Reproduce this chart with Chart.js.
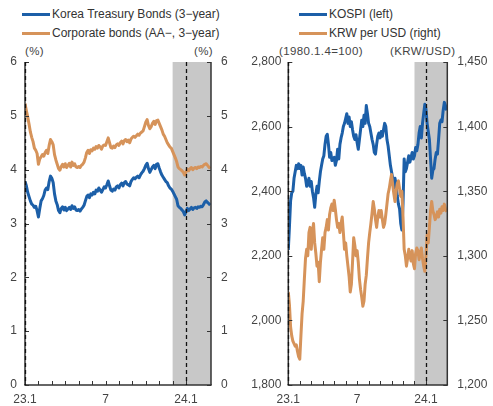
<!DOCTYPE html>
<html>
<head>
<meta charset="utf-8">
<script src="https://cdn.jsdelivr.net/npm/chart.js@4"></script>
<style>
  html,body{margin:0;padding:0;background:#fff;}
  #wrap{position:relative;width:493px;height:406px;overflow:hidden;font-family:"Liberation Sans",Arial,sans-serif;color:#333;}
  .t{position:absolute;font-size:12px;line-height:14px;white-space:nowrap;}
  .u{position:absolute;font-size:11.5px;line-height:14px;white-space:nowrap;letter-spacing:0.4px;color:#444;}
  .ln{position:absolute;height:3px;width:28px;}
  canvas{position:absolute;top:0;}
</style>
</head>
<body>
<div id="wrap">
  <div class="ln" style="left:22px;top:13px;background:#1c5fa8"></div>
  <div class="t" style="left:52px;top:7px">Korea Treasury Bonds (3−year)</div>
  <div class="ln" style="left:22px;top:32px;background:#d6935a"></div>
  <div class="t" style="left:52px;top:26px">Corporate bonds (AA−, 3−year)</div>
  <div class="u" style="left:25px;top:44px">(%)</div>
  <div class="u" style="left:194px;top:44px">(%)</div>

  <div class="ln" style="left:299px;top:13px;background:#1c5fa8"></div>
  <div class="t" style="left:329px;top:7px">KOSPI (left)</div>
  <div class="ln" style="left:299px;top:32px;background:#d6935a"></div>
  <div class="t" style="left:329px;top:26px">KRW per USD (right)</div>
  <div class="u" style="left:279px;top:44px">(1980.1.4=100)</div>
  <div class="u" style="left:390px;top:44px">(KRW/USD)</div>

  <canvas id="c1" width="246" height="406" style="left:0;width:246px;height:406px"></canvas>
  <canvas id="c2" width="247" height="406" style="left:246px;width:247px;height:406px"></canvas>
</div>
<script>
// ---- data (x = months since 2023-01-01, one point every STEP months) ----
const STEP = 0.1;
const X_MAX = 13.86;
const X_LABELS = {0: '23.1', 6: '7', 12: '24.1'};
const SHADE_FROM = 11;     // Dec 2023
const DASH_AT = [0, 12];   // dashed verticals

const ktb3y = [3.78,3.70,3.58,3.50,3.42,3.36,3.34,3.30,3.32,3.24,3.12,3.28,3.42,3.46,3.52,3.62,3.66,3.63,3.78,3.88,
3.84,3.76,3.55,3.42,3.35,3.24,3.20,3.28,3.31,3.25,3.30,3.24,3.27,3.30,3.26,3.33,3.28,3.31,3.25,3.24,
3.26,3.23,3.27,3.30,3.34,3.42,3.50,3.53,3.48,3.55,3.53,3.58,3.55,3.62,3.60,3.66,3.62,3.58,3.63,3.68,
3.66,3.72,3.79,3.70,3.62,3.60,3.64,3.62,3.68,3.70,3.66,3.72,3.75,3.70,3.76,3.78,3.73,3.72,3.70,3.78,
3.82,3.85,3.83,3.86,3.88,3.85,3.90,3.94,3.97,4.02,4.08,4.12,4.02,3.95,4.00,4.05,4.08,4.02,4.10,4.11,
4.03,3.96,3.90,3.86,3.82,3.78,3.76,3.70,3.66,3.64,3.60,3.55,3.50,3.45,3.33,3.30,3.28,3.25,3.22,3.16,
3.22,3.28,3.24,3.27,3.30,3.26,3.29,3.30,3.28,3.31,3.30,3.32,3.31,3.35,3.40,3.42,3.39,3.37,3.34];

const corpAA = [5.23,5.10,4.98,4.85,4.70,4.60,4.52,4.40,4.36,4.30,4.10,4.20,4.24,4.28,4.25,4.32,4.36,4.30,4.45,4.56,
4.52,4.46,4.28,4.18,4.10,4.02,3.99,4.06,4.10,4.05,4.11,4.04,4.08,4.12,4.05,4.14,4.08,4.11,4.05,4.04,
4.06,4.04,4.08,4.10,4.14,4.22,4.32,4.36,4.30,4.37,4.35,4.40,4.38,4.43,4.40,4.45,4.42,4.38,4.44,4.46,
4.45,4.52,4.59,4.50,4.41,4.40,4.44,4.41,4.46,4.48,4.45,4.50,4.53,4.48,4.54,4.56,4.52,4.55,4.50,4.57,
4.60,4.62,4.60,4.63,4.66,4.64,4.68,4.70,4.72,4.80,4.88,4.93,4.82,4.76,4.80,4.86,4.90,4.84,4.91,4.92,
4.86,4.80,4.74,4.66,4.62,4.56,4.50,4.46,4.42,4.40,4.34,4.28,4.22,4.15,4.05,4.02,4.00,3.98,3.95,3.90,
3.96,4.01,3.98,4.02,4.04,4.00,4.03,4.04,4.02,4.05,4.04,4.06,4.05,4.08,4.10,4.11,4.08,4.05,4.02];

const kospi = [2218,2290,2370,2395,2400,2440,2460,2480,2470,2485,2470,2480,2450,2475,2455,2440,2415,2420,2440,2415,
2430,2400,2380,2350,2390,2415,2395,2430,2460,2480,2500,2510,2545,2570,2576,2545,2505,2520,2495,2500,
2505,2480,2495,2530,2500,2545,2565,2580,2600,2610,2625,2640,2610,2630,2600,2615,2590,2570,2560,2575,
2550,2530,2560,2590,2620,2600,2635,2610,2665,2640,2610,2600,2580,2560,2545,2520,2515,2545,2570,2580,
2565,2585,2570,2590,2610,2600,2560,2540,2510,2480,2460,2440,2410,2440,2420,2385,2360,2345,2300,2280,
2360,2500,2460,2470,2490,2510,2490,2505,2520,2500,2510,2535,2525,2545,2580,2600,2565,2610,2640,2669,
2655,2610,2585,2560,2500,2440,2465,2470,2500,2520,2515,2560,2610,2620,2615,2650,2675,2665,2650];

const krwUsd = [1272,1262,1245,1238,1234,1232,1230,1231,1226,1222,1220,1238,1255,1265,1282,1298,1305,1300,1318,1322,
1305,1318,1325,1310,1302,1292,1295,1280,1295,1305,1314,1305,1318,1322,1328,1320,1332,1337,1340,1335,
1343,1336,1328,1322,1325,1318,1325,1330,1318,1305,1310,1300,1292,1284,1272,1278,1295,1314,1308,1300,
1304,1295,1282,1274,1268,1261,1265,1278,1285,1298,1310,1318,1325,1333,1342,1336,1328,1322,1330,1335,
1330,1335,1328,1322,1325,1332,1340,1348,1352,1358,1363,1355,1348,1342,1350,1356,1358,1352,1346,1350,
1330,1305,1300,1292,1298,1305,1300,1296,1304,1294,1290,1302,1306,1304,1297,1302,1306,1298,1292,1288,
1300,1316,1310,1322,1335,1342,1335,1332,1328,1330,1334,1330,1336,1333,1338,1335,1340,1336,1334];

const BLUE = '#1c5fa8', ORANGE = '#d6935a';
const FONT = {family: '"Liberation Sans", Arial, sans-serif', size: 12};
const TICK_COLOR = '#444';

function toPts(arr){ return arr.map((v,i)=>({x: +(i*STEP).toFixed(2), y: v})); }

const decor = {
  id: 'decor',
  beforeDatasetsDraw(chart){
    const {ctx, chartArea:a, scales:{x}} = chart;
    const x0 = x.getPixelForValue(SHADE_FROM);
    ctx.save();
    ctx.fillStyle = '#c8c8c8';
    ctx.fillRect(x0, a.top, a.right - x0, a.bottom - a.top);
    ctx.restore();
  },
  afterDatasetsDraw(chart){
    const {ctx, chartArea:a, scales} = chart;
    const x = scales.x, yl = scales.y, yr = scales.y2;
    const line = (x1,y1,x2,y2)=>{ctx.beginPath();ctx.moveTo(x1,y1);ctx.lineTo(x2,y2);ctx.stroke();};
    ctx.save();
    ctx.strokeStyle = '#333'; ctx.lineWidth = 1.5;
    line(a.left, a.top, a.left, a.bottom);
    line(a.right, a.top, a.right, a.bottom);
    line(a.left - 0.75, a.bottom, a.right + 0.75, a.bottom);
    ctx.lineWidth = 1;
    yl.ticks.forEach(t=>{const p = Math.round(yl.getPixelForValue(t.value))+0.5; line(a.left, p, a.left+4, p);});
    yr.ticks.forEach(t=>{const p = Math.round(yr.getPixelForValue(t.value))+0.5; line(a.right-4, p, a.right, p);});
    x.ticks.forEach(t=>{const p = Math.round(x.getPixelForValue(t.value))+0.5; line(p, a.bottom, p, a.bottom-4);});
    ctx.strokeStyle = '#111'; ctx.lineWidth = 1.3; ctx.setLineDash([4,3]);
    DASH_AT.forEach(v=>{const p = Math.round(x.getPixelForValue(v))+0.5; line(p, a.top, p, a.bottom);});
    ctx.restore();
  }
};

function makeChart(id, cfg){
  const ds = cfg.series.map(s=>({
    data: toPts(s.data), yAxisID: s.axis, borderColor: s.color, backgroundColor: s.color,
    borderWidth: 3, pointRadius: 0, tension: 0, fill: false, borderJoinStyle: 'round'
  }));
  return new Chart(document.getElementById(id), {
    type: 'line',
    data: {datasets: ds},
    plugins: [decor],
    options: {
      responsive: false, animation: false, events: [],
      layout: {padding: {top: 62, left: 0, right: 0, bottom: 0}},
      plugins: {legend: {display: false}, tooltip: {enabled: false}},
      scales: {
        x: {
          type: 'linear', min: 0, max: X_MAX,
          grid: {display: false, drawTicks: false}, border: {display: false},
          ticks: {stepSize: 1, autoSkip: false, maxRotation: 0, padding: 7, font: FONT, color: TICK_COLOR,
                  callback: v => (X_LABELS[v] !== undefined ? X_LABELS[v] : '')},
          afterBuildTicks: s => { s.ticks = s.ticks.filter(t => Number.isInteger(t.value)); },
          afterFit: s => { s.height = 21; }
        },
        y: {
          position: 'left', min: cfg.left.min, max: cfg.left.max,
          grid: {display: false, drawTicks: false}, border: {display: false},
          ticks: {stepSize: cfg.left.step, padding: cfg.left.pad, font: FONT, color: TICK_COLOR,
                  callback: v => v.toLocaleString('en-US')},
          afterFit: s => { s.width = cfg.left.w; }
        },
        y2: {
          position: 'right', min: cfg.right.min, max: cfg.right.max,
          grid: {display: false, drawTicks: false}, border: {display: false},
          ticks: {stepSize: cfg.right.step, padding: cfg.right.pad, font: FONT, color: TICK_COLOR,
                  callback: v => v.toLocaleString('en-US')},
          afterFit: s => { s.width = cfg.right.w; }
        }
      }
    }
  });
}

makeChart('c1', {
  series: [
    {data: ktb3y, axis: 'y', color: BLUE},
    {data: corpAA, axis: 'y', color: ORANGE}
  ],
  left: {min: 0, max: 6, step: 1, w: 25, pad: 8},
  right: {min: 0, max: 6, step: 1, w: 35, pad: 10}
});

makeChart('c2', {
  series: [
    {data: krwUsd, axis: 'y2', color: ORANGE},
    {data: kospi, axis: 'y', color: BLUE}
  ],
  left: {min: 1800, max: 2800, step: 200, w: 42.3, pad: 7},
  right: {min: 1200, max: 1450, step: 50, w: 45.7, pad: 10}
});
</script>
</body>
</html>
